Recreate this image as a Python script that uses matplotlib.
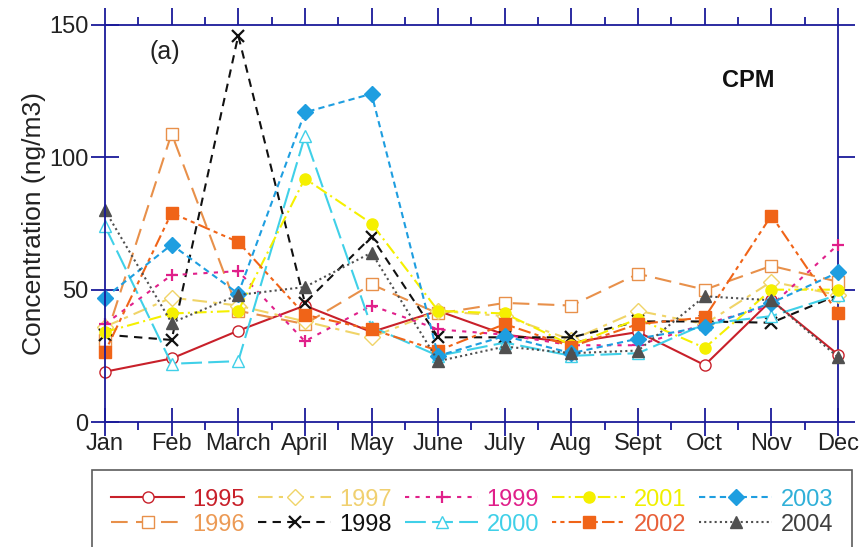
import matplotlib
matplotlib.use("Agg")
import matplotlib.pyplot as plt
from matplotlib.ticker import MultipleLocator

plt.rcParams['font.family'] = ['Liberation Sans', 'DejaVu Sans']

months = ['Jan', 'Feb', 'March', 'April', 'May', 'June', 'July', 'Aug',
          'Sept', 'Oct', 'Nov', 'Dec']
years = ['1995', '1996', '1997', '1998', '1999', '2000', '2001', '2002',
         '2003', '2004']

# monthly CPM concentrations (ng/m3)
c1995 = [19, 24, 34.5, 44, 34, 42, 33, 30, 34, 21.5, 46, 25.5]
c1996 = [31, 109, 42, 37, 52, 41, 45, 44, 56, 50, 59, 53]
c1997 = [36, 47, 44, 38, 32, 42, 40, 31, 42, 37, 53, 48]
c1998 = [33, 31, 146, 45, 70, 32, 32, 32, 38, 38, 37.5, 48]
c1999 = [37, 55.5, 57, 30.5, 44, 35, 33, 29, 29, 37, 44, 67]
c2000 = [74, 22, 23, 108, 36, 25, 30, 25, 26, 37, 40, 48]
c2001 = [34, 41, 42, 92, 75, 42, 41, 29, 39, 28, 50, 50]
c2002 = [26.5, 79, 68, 40.5, 35, 27, 37, 28.5, 37, 39.5, 78, 41]
c2003 = [47, 67, 48.5, 117, 124, 25, 32.5, 26, 31.5, 36, 45, 56.5]
c2004 = [80, 37.5, 48, 51, 64, 23, 28.5, 26, 27, 47.5, 46, 24.5]

series = [c1995, c1996, c1997, c1998, c1999, c2000, c2001, c2002, c2003, c2004]

# line colour, legend text colour, marker, filled?, dash pattern
styles = [
    ('#c8202a', '#c8202a', 'o', False, 'solid'),
    ('#e8904a', '#ec9a55', 's', False, (0, (8, 4))),
    ('#f0d468', '#f0d070', 'D', False, (0, (7, 3, 2, 3))),
    ('#111111', '#111111', 'x', True, (0, (4, 3))),
    ('#e0208a', '#e0208a', '+', True, (0, (2, 3))),
    ('#40d0e8', '#40d0e8', '^', False, (0, (10, 3))),
    ('#f5f000', '#f0f000', 'o', True, (0, (6, 2, 1, 2))),
    ('#f06418', '#e8603a', 's', True, (0, (2, 2, 2, 2, 6, 2))),
    ('#1e9ee0', '#30b0d8', 'D', True, (0, (3, 2))),
    ('#505050', '#404040', '^', True, (0, (1, 1.5))),
]

axis_col = '#1a1a9a'

fig = plt.figure(figsize=(8.66, 5.47), dpi=100)
ax = fig.add_axes([0.1212, 0.2285, 0.8465, 0.7258])

x = list(range(len(months)))
for vals, yr, (col, tcol, mk, filled, ls) in zip(series, years, styles):
    ms = 8 if mk in ('D', 's', 'o') else 9
    ax.plot(x, vals, color=col, linestyle=ls, linewidth=1.5, marker=mk,
            markersize=ms, markerfacecolor=col if filled else 'white',
            markeredgecolor=col, markeredgewidth=1.6 if mk in ('x', '+') else 1.0,
            label=yr, clip_on=False)

ax.set_xlim(0, 11)
ax.set_ylim(0, 150)
ax.set_xticks(x)
ax.set_xticklabels(months)
ax.xaxis.set_minor_locator(MultipleLocator(0.5))
ax.set_yticks([0, 50, 100, 150])

for s in ['left', 'bottom']:
    ax.spines[s].set_color(axis_col)
    ax.spines[s].set_linewidth(1.3)
for s in ['top', 'right']:
    ax.spines[s].set_visible(False)

ax.tick_params(axis='both', which='major', direction='inout', length=20,
               width=1.3, color=axis_col, labelsize=17, labelcolor='#222222')
ax.tick_params(axis='x', which='major', pad=-2)
ax.tick_params(axis='x', which='minor', direction='out', length=6, width=1.3,
               color=axis_col)
ax.tick_params(axis='y', which='major', pad=2)

# outward ticks on the top and right edges
top = ax.secondary_xaxis('top')
top.set_xticks(x)
top.xaxis.set_minor_locator(MultipleLocator(0.5))
top.tick_params(which='major', direction='out', length=12, width=1.3,
                color=axis_col, labeltop=False)
top.tick_params(which='minor', direction='out', length=6, width=1.3,
                color=axis_col)
top.spines['top'].set_color(axis_col)
top.spines['top'].set_linewidth(1.3)

right = ax.secondary_yaxis('right')
right.set_yticks([0, 50, 100, 150])
right.tick_params(direction='out', length=12, width=1.3, color=axis_col,
                  labelright=False)
right.spines['right'].set_color(axis_col)
right.spines['right'].set_linewidth(1.3)

ax.set_ylabel('Concentration (ng/m3)', fontsize=19, color='#222222',
              labelpad=2)

ax.text(0.082, 0.932, '(a)', transform=ax.transAxes, fontsize=18,
        ha='center', va='center', color='#222222')
ax.text(0.877, 0.859, 'CPM', transform=ax.transAxes, fontsize=17,
        fontweight='bold', ha='center', va='center', color='#111111')

leg = fig.legend(loc='upper center', bbox_to_anchor=(0.545, 0.141), ncol=5,
                 fontsize=17, handlelength=3.1, handletextpad=0.35,
                 columnspacing=0.55, labelspacing=0.12, borderpad=0.8,
                 fancybox=False, frameon=True, edgecolor='#333333',
                 borderaxespad=0)
leg.get_frame().set_linewidth(1.2)
for txt, st in zip(leg.get_texts(), styles):
    txt.set_color(st[1])

fig.savefig('out.png', dpi=100)
